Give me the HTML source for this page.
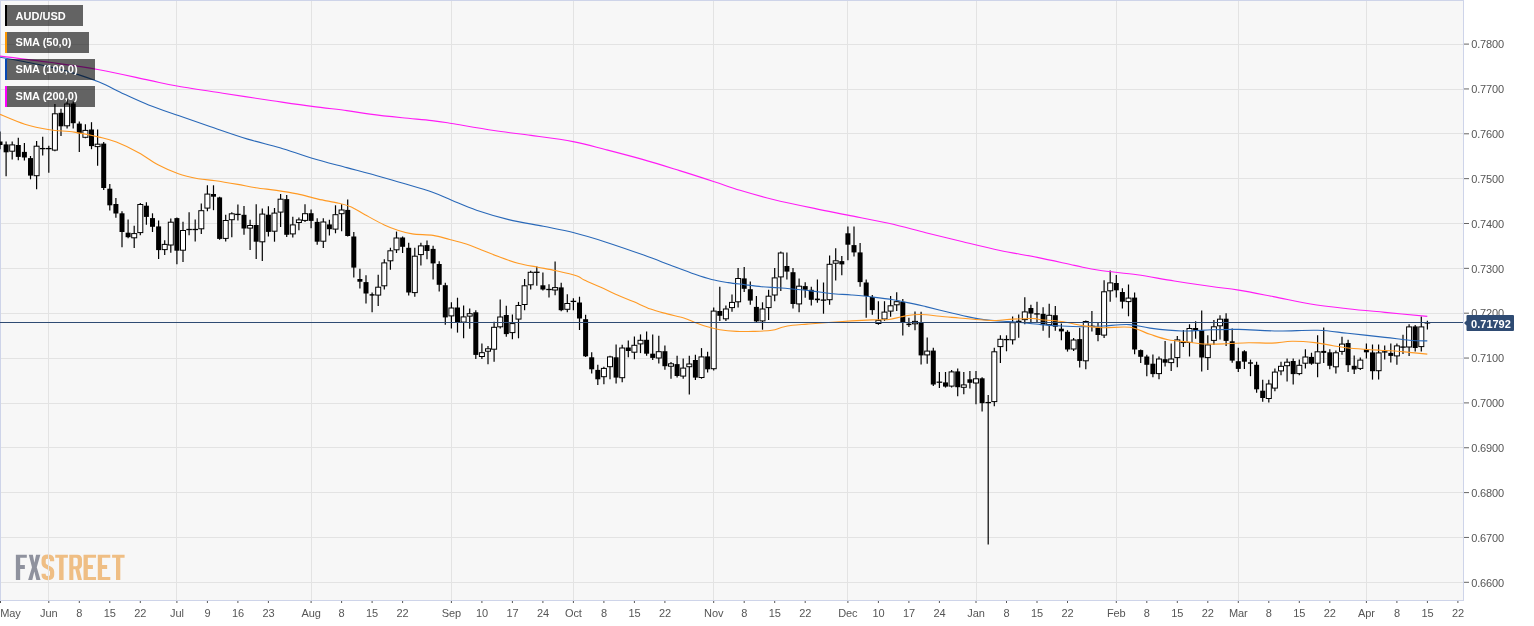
<!DOCTYPE html>
<html><head><meta charset="utf-8"><title>AUD/USD</title>
<style>
html,body{margin:0;padding:0;background:#fff;}
body{width:1534px;height:626px;overflow:hidden;position:relative;font-family:"Liberation Sans",sans-serif;}
svg{position:absolute;left:0;top:0;will-change:transform;transform:translateZ(0);}
text{font-family:"Liberation Sans",sans-serif;}
.ax{font-size:11px;fill:#555;letter-spacing:-0.12px;}
.lg{font-size:11px;font-weight:bold;fill:#fff;}
</style></head><body>
<svg width="1534" height="626" viewBox="0 0 1534 626">
<rect x="0" y="0" width="1534" height="626" fill="#fff"/>
<rect x="0" y="0" width="1463" height="600" fill="#f7f7f7"/>

<g transform="translate(10,548) scale(0.078228)">
<g fill="#8f929e">
<path d="M75,85 H215 V125 H130 V218 H190 V268 H130 V410 H75 Z"/>
<path d="M240,85 L292,85 L312,190 L333,85 L388,85 L342,245 L390,410 L337,410 L311,300 L285,410 L232,410 L281,245 Z"/>
</g>
<g fill="#efbe84">
<path d="M578,85 H740 V125 H685 V410 H628 V125 H578 Z"/>
<path fill-rule="evenodd" d="M758,85 H860 Q920,85 920,145 V215 Q920,255 885,268 L920,410 H868 L835,272 H810 V410 H758 Z M810,125 V232 H845 Q866,232 866,210 V147 Q866,125 845,125 Z"/>
<path d="M940,85 H1100 V125 H995 V218 H1060 V268 H995 V372 H1100 V410 H940 Z"/>
<path d="M1122,85 H1282 V125 H1177 V218 H1242 V268 H1177 V372 H1282 V410 H1122 Z"/>
<path d="M1305,85 H1465 V125 H1410 V410 H1355 V125 H1305 Z"/>
</g>
<path fill="none" stroke="#efbe84" stroke-width="54" d="M538,168 V150 Q538,111 484,111 Q430,111 430,150 V195 Q430,225 484,248 Q538,270 538,300 V345 Q538,384 484,384 Q430,384 430,345 V330"/>
</g>

<g stroke="#e3e3e3" stroke-width="1" shape-rendering="crispEdges">
<line x1="0" y1="44.5" x2="1463" y2="44.5"/>
<line x1="0" y1="89.5" x2="1463" y2="89.5"/>
<line x1="0" y1="133.5" x2="1463" y2="133.5"/>
<line x1="0" y1="178.5" x2="1463" y2="178.5"/>
<line x1="0" y1="223.5" x2="1463" y2="223.5"/>
<line x1="0" y1="268.5" x2="1463" y2="268.5"/>
<line x1="0" y1="313.5" x2="1463" y2="313.5"/>
<line x1="0" y1="358.5" x2="1463" y2="358.5"/>
<line x1="0" y1="403.5" x2="1463" y2="403.5"/>
<line x1="0" y1="447.5" x2="1463" y2="447.5"/>
<line x1="0" y1="492.5" x2="1463" y2="492.5"/>
<line x1="0" y1="537.5" x2="1463" y2="537.5"/>
<line x1="0" y1="582.5" x2="1463" y2="582.5"/>
<line x1="48.5" y1="0" x2="48.5" y2="600"/>
<line x1="176.5" y1="0" x2="176.5" y2="600"/>
<line x1="311.5" y1="0" x2="311.5" y2="600"/>
<line x1="451.5" y1="0" x2="451.5" y2="600"/>
<line x1="573.5" y1="0" x2="573.5" y2="600"/>
<line x1="713.5" y1="0" x2="713.5" y2="600"/>
<line x1="847.5" y1="0" x2="847.5" y2="600"/>
<line x1="976.5" y1="0" x2="976.5" y2="600"/>
<line x1="1116.5" y1="0" x2="1116.5" y2="600"/>
<line x1="1238.5" y1="0" x2="1238.5" y2="600"/>
<line x1="1366.5" y1="0" x2="1366.5" y2="600"/>
</g>
<g stroke="#ced4e9" stroke-width="1" fill="none" shape-rendering="crispEdges"><line x1="0.5" y1="0" x2="0.5" y2="600"/><line x1="0" y1="0.5" x2="1463" y2="0.5"/><line x1="1463.5" y1="0" x2="1463.5" y2="601"/><line x1="0" y1="600.5" x2="1464" y2="600.5"/></g>
<g stroke="#000" stroke-width="1">
<line x1="0.0" y1="131.4" x2="0.0" y2="149.3" stroke-width="1.2"/>
<rect x="-2.5" y="141.5" width="5" height="3.5" fill="#000" stroke="none"/>
<line x1="6.1" y1="141.5" x2="6.1" y2="176.2" stroke-width="1.2"/>
<rect x="3.6" y="144.4" width="5" height="7.9" fill="#000" stroke="none"/>
<line x1="12.2" y1="141.5" x2="12.2" y2="159.6" stroke-width="1.2"/>
<rect x="9.7" y="144.9" width="5" height="6.3" fill="#fff"/>
<line x1="18.3" y1="137.8" x2="18.3" y2="160.2" stroke-width="1.2"/>
<rect x="15.8" y="145.0" width="5" height="11.9" fill="#000" stroke="none"/>
<line x1="24.4" y1="143.0" x2="24.4" y2="160.6" stroke-width="1.2"/>
<rect x="21.9" y="151.9" width="5" height="5.6" fill="#000" stroke="none"/>
<line x1="30.5" y1="156.0" x2="30.5" y2="179.3" stroke-width="1.2"/>
<rect x="28.0" y="158.1" width="5" height="17.5" fill="#000" stroke="none"/>
<line x1="36.6" y1="140.9" x2="36.6" y2="189.3" stroke-width="1.2"/>
<rect x="34.1" y="146.2" width="5" height="29.5" fill="#fff"/>
<line x1="42.7" y1="136.7" x2="42.7" y2="155.4" stroke-width="1.2"/>
<line x1="39.9" y1="148.6" x2="45.5" y2="148.6" stroke-width="1.3"/>
<line x1="48.8" y1="145.7" x2="48.8" y2="172.7" stroke-width="1.2"/>
<line x1="46.0" y1="148.6" x2="51.6" y2="148.6" stroke-width="1.3"/>
<line x1="54.9" y1="104.1" x2="54.9" y2="151.3" stroke-width="1.2"/>
<rect x="52.4" y="113.8" width="5" height="36.3" fill="#fff"/>
<line x1="61.0" y1="108.7" x2="61.0" y2="136.1" stroke-width="1.2"/>
<rect x="58.5" y="112.8" width="5" height="13.5" fill="#000" stroke="none"/>
<line x1="67.1" y1="99.3" x2="67.1" y2="128.4" stroke-width="1.2"/>
<rect x="64.6" y="104.0" width="5" height="21.8" fill="#fff"/>
<line x1="73.2" y1="101.4" x2="73.2" y2="128.4" stroke-width="1.2"/>
<rect x="70.7" y="103.5" width="5" height="19.7" fill="#000" stroke="none"/>
<line x1="79.3" y1="121.6" x2="79.3" y2="151.9" stroke-width="1.2"/>
<rect x="76.8" y="123.6" width="5" height="9.6" fill="#000" stroke="none"/>
<line x1="85.4" y1="124.3" x2="85.4" y2="138.2" stroke-width="1.2"/>
<rect x="82.9" y="130.4" width="5" height="6.9" fill="#fff"/>
<line x1="91.5" y1="122.2" x2="91.5" y2="149.2" stroke-width="1.2"/>
<rect x="89.0" y="129.5" width="5" height="16.6" fill="#000" stroke="none"/>
<line x1="97.6" y1="129.5" x2="97.6" y2="165.8" stroke-width="1.2"/>
<rect x="95.1" y="144.2" width="5" height="2.4" fill="#fff"/>
<line x1="103.7" y1="141.9" x2="103.7" y2="190.1" stroke-width="1.2"/>
<rect x="101.2" y="143.6" width="5" height="44.4" fill="#000" stroke="none"/>
<line x1="109.8" y1="183.9" x2="109.8" y2="210.5" stroke-width="1.2"/>
<rect x="107.3" y="188.7" width="5" height="16.6" fill="#000" stroke="none"/>
<line x1="115.9" y1="198.0" x2="115.9" y2="217.7" stroke-width="1.2"/>
<rect x="113.4" y="204.0" width="5" height="9.5" fill="#000" stroke="none"/>
<line x1="122.0" y1="211.3" x2="122.0" y2="247.2" stroke-width="1.2"/>
<rect x="119.5" y="213.3" width="5" height="18.7" fill="#000" stroke="none"/>
<line x1="128.1" y1="219.6" x2="128.1" y2="238.3" stroke-width="1.2"/>
<rect x="125.6" y="232.7" width="5" height="4.5" fill="#000" stroke="none"/>
<line x1="134.2" y1="225.8" x2="134.2" y2="248.0" stroke-width="1.2"/>
<rect x="131.7" y="233.6" width="5" height="4.2" fill="#fff"/>
<line x1="140.3" y1="203.0" x2="140.3" y2="235.2" stroke-width="1.2"/>
<rect x="137.8" y="204.5" width="5" height="28.1" fill="#fff"/>
<line x1="146.4" y1="202.3" x2="146.4" y2="224.8" stroke-width="1.2"/>
<rect x="143.9" y="205.7" width="5" height="11.2" fill="#000" stroke="none"/>
<line x1="152.5" y1="213.3" x2="152.5" y2="232.0" stroke-width="1.2"/>
<rect x="150.0" y="218.1" width="5" height="8.7" fill="#000" stroke="none"/>
<line x1="158.6" y1="220.6" x2="158.6" y2="259.0" stroke-width="1.2"/>
<rect x="156.1" y="226.4" width="5" height="23.7" fill="#000" stroke="none"/>
<line x1="164.7" y1="240.3" x2="164.7" y2="254.9" stroke-width="1.2"/>
<rect x="162.2" y="244.4" width="5" height="5.2" fill="#fff"/>
<line x1="170.8" y1="218.5" x2="170.8" y2="252.8" stroke-width="1.2"/>
<rect x="168.3" y="222.2" width="5" height="22.8" fill="#fff"/>
<line x1="176.9" y1="217.5" x2="176.9" y2="264.2" stroke-width="1.2"/>
<rect x="174.4" y="218.1" width="5" height="32.6" fill="#000" stroke="none"/>
<line x1="183.0" y1="221.7" x2="183.0" y2="262.1" stroke-width="1.2"/>
<rect x="180.5" y="230.5" width="5" height="19.7" fill="#fff"/>
<line x1="189.1" y1="212.3" x2="189.1" y2="235.2" stroke-width="1.2"/>
<line x1="186.3" y1="229.5" x2="191.9" y2="229.5" stroke-width="1.3"/>
<line x1="195.2" y1="219.6" x2="195.2" y2="241.4" stroke-width="1.2"/>
<line x1="192.4" y1="229.5" x2="198.0" y2="229.5" stroke-width="1.3"/>
<line x1="201.3" y1="203.6" x2="201.3" y2="234.1" stroke-width="1.2"/>
<rect x="198.8" y="210.7" width="5" height="18.1" fill="#fff"/>
<line x1="207.4" y1="185.3" x2="207.4" y2="211.3" stroke-width="1.2"/>
<rect x="204.9" y="194.1" width="5" height="14.0" fill="#fff"/>
<line x1="213.5" y1="185.3" x2="213.5" y2="210.2" stroke-width="1.2"/>
<rect x="211.0" y="194.0" width="5" height="2.7" fill="#000" stroke="none"/>
<line x1="219.6" y1="196.7" x2="219.6" y2="239.7" stroke-width="1.2"/>
<rect x="217.1" y="197.4" width="5" height="41.5" fill="#000" stroke="none"/>
<line x1="225.7" y1="214.8" x2="225.7" y2="241.4" stroke-width="1.2"/>
<rect x="223.2" y="220.5" width="5" height="17.9" fill="#fff"/>
<line x1="231.8" y1="212.3" x2="231.8" y2="237.2" stroke-width="1.2"/>
<rect x="229.3" y="213.8" width="5" height="5.9" fill="#fff"/>
<line x1="237.9" y1="204.4" x2="237.9" y2="220.6" stroke-width="1.2"/>
<line x1="235.1" y1="214.4" x2="240.7" y2="214.4" stroke-width="1.3"/>
<line x1="244.0" y1="206.0" x2="244.0" y2="234.7" stroke-width="1.2"/>
<rect x="241.5" y="214.8" width="5" height="13.7" fill="#000" stroke="none"/>
<line x1="250.1" y1="219.8" x2="250.1" y2="250.0" stroke-width="1.2"/>
<rect x="247.6" y="225.5" width="5" height="2.6" fill="#fff"/>
<line x1="256.2" y1="204.3" x2="256.2" y2="258.9" stroke-width="1.2"/>
<rect x="253.7" y="225.0" width="5" height="16.7" fill="#000" stroke="none"/>
<line x1="262.3" y1="208.4" x2="262.3" y2="261.0" stroke-width="1.2"/>
<rect x="259.8" y="214.1" width="5" height="27.7" fill="#fff"/>
<line x1="268.4" y1="206.3" x2="268.4" y2="236.5" stroke-width="1.2"/>
<rect x="265.9" y="214.7" width="5" height="17.2" fill="#000" stroke="none"/>
<line x1="274.5" y1="208.0" x2="274.5" y2="241.7" stroke-width="1.2"/>
<rect x="272.0" y="213.1" width="5" height="18.1" fill="#fff"/>
<line x1="280.6" y1="193.9" x2="280.6" y2="227.1" stroke-width="1.2"/>
<rect x="278.1" y="199.2" width="5" height="12.9" fill="#fff"/>
<line x1="286.7" y1="194.9" x2="286.7" y2="236.9" stroke-width="1.2"/>
<rect x="284.2" y="199.1" width="5" height="35.7" fill="#000" stroke="none"/>
<line x1="292.8" y1="216.7" x2="292.8" y2="237.5" stroke-width="1.2"/>
<rect x="290.3" y="224.9" width="5" height="9.0" fill="#fff"/>
<line x1="298.9" y1="217.4" x2="298.9" y2="230.2" stroke-width="1.2"/>
<rect x="296.4" y="219.9" width="5" height="2.6" fill="#fff"/>
<line x1="305.0" y1="204.3" x2="305.0" y2="221.9" stroke-width="1.2"/>
<rect x="302.5" y="213.7" width="5" height="6.7" fill="#fff"/>
<line x1="311.1" y1="209.5" x2="311.1" y2="228.2" stroke-width="1.2"/>
<rect x="308.6" y="213.2" width="5" height="7.7" fill="#000" stroke="none"/>
<line x1="317.2" y1="218.2" x2="317.2" y2="244.8" stroke-width="1.2"/>
<rect x="314.7" y="221.9" width="5" height="19.8" fill="#000" stroke="none"/>
<line x1="323.3" y1="218.2" x2="323.3" y2="247.9" stroke-width="1.2"/>
<rect x="320.8" y="222.0" width="5" height="19.2" fill="#fff"/>
<line x1="329.4" y1="219.8" x2="329.4" y2="235.4" stroke-width="1.2"/>
<rect x="326.9" y="224.4" width="5" height="4.8" fill="#000" stroke="none"/>
<line x1="335.5" y1="205.3" x2="335.5" y2="233.3" stroke-width="1.2"/>
<rect x="333.0" y="214.7" width="5" height="14.4" fill="#fff"/>
<line x1="341.6" y1="204.3" x2="341.6" y2="231.3" stroke-width="1.2"/>
<rect x="339.1" y="210.0" width="5" height="3.7" fill="#fff"/>
<line x1="347.7" y1="199.5" x2="347.7" y2="236.5" stroke-width="1.2"/>
<rect x="345.2" y="209.9" width="5" height="26.1" fill="#000" stroke="none"/>
<line x1="353.8" y1="231.9" x2="353.8" y2="277.6" stroke-width="1.2"/>
<rect x="351.3" y="236.5" width="5" height="31.1" fill="#000" stroke="none"/>
<line x1="359.9" y1="268.7" x2="359.9" y2="288.4" stroke-width="1.2"/>
<rect x="357.4" y="279.0" width="5" height="2.7" fill="#000" stroke="none"/>
<line x1="366.0" y1="275.3" x2="366.0" y2="303.5" stroke-width="1.2"/>
<rect x="363.5" y="282.1" width="5" height="11.4" fill="#000" stroke="none"/>
<line x1="372.1" y1="292.5" x2="372.1" y2="312.2" stroke-width="1.2"/>
<rect x="369.6" y="294.2" width="5" height="1.4" fill="#000" stroke="none"/>
<line x1="378.2" y1="274.8" x2="378.2" y2="306.0" stroke-width="1.2"/>
<rect x="375.7" y="287.2" width="5" height="7.9" fill="#fff"/>
<line x1="384.3" y1="259.3" x2="384.3" y2="289.4" stroke-width="1.2"/>
<rect x="381.8" y="262.9" width="5" height="22.9" fill="#fff"/>
<line x1="390.4" y1="247.8" x2="390.4" y2="269.7" stroke-width="1.2"/>
<rect x="387.9" y="250.8" width="5" height="10.0" fill="#fff"/>
<line x1="396.5" y1="231.6" x2="396.5" y2="253.0" stroke-width="1.2"/>
<rect x="394.0" y="238.0" width="5" height="11.8" fill="#fff"/>
<line x1="402.6" y1="236.4" x2="402.6" y2="253.0" stroke-width="1.2"/>
<rect x="400.1" y="237.5" width="5" height="9.3" fill="#000" stroke="none"/>
<line x1="408.7" y1="242.7" x2="408.7" y2="295.6" stroke-width="1.2"/>
<rect x="406.2" y="247.8" width="5" height="44.7" fill="#000" stroke="none"/>
<line x1="414.8" y1="247.8" x2="414.8" y2="296.7" stroke-width="1.2"/>
<rect x="412.3" y="256.2" width="5" height="36.4" fill="#fff"/>
<line x1="420.9" y1="242.7" x2="420.9" y2="265.5" stroke-width="1.2"/>
<rect x="418.4" y="245.9" width="5" height="8.7" fill="#fff"/>
<line x1="427.0" y1="240.6" x2="427.0" y2="259.3" stroke-width="1.2"/>
<rect x="424.5" y="245.1" width="5" height="5.9" fill="#000" stroke="none"/>
<line x1="433.1" y1="245.8" x2="433.1" y2="279.4" stroke-width="1.2"/>
<rect x="430.6" y="248.9" width="5" height="14.5" fill="#000" stroke="none"/>
<line x1="439.2" y1="261.3" x2="439.2" y2="291.5" stroke-width="1.2"/>
<rect x="436.7" y="264.0" width="5" height="20.8" fill="#000" stroke="none"/>
<line x1="445.3" y1="282.7" x2="445.3" y2="324.7" stroke-width="1.2"/>
<rect x="442.8" y="285.2" width="5" height="32.2" fill="#000" stroke="none"/>
<line x1="451.4" y1="302.3" x2="451.4" y2="328.4" stroke-width="1.2"/>
<rect x="448.9" y="308.0" width="5" height="7.9" fill="#fff"/>
<line x1="457.5" y1="297.7" x2="457.5" y2="332.6" stroke-width="1.2"/>
<rect x="455.0" y="307.5" width="5" height="14.7" fill="#000" stroke="none"/>
<line x1="463.6" y1="305.6" x2="463.6" y2="338.2" stroke-width="1.2"/>
<rect x="461.1" y="316.9" width="5" height="5.2" fill="#fff"/>
<line x1="469.7" y1="308.5" x2="469.7" y2="328.8" stroke-width="1.2"/>
<rect x="467.2" y="313.7" width="5" height="2.4" fill="#fff"/>
<line x1="475.8" y1="310.2" x2="475.8" y2="359.0" stroke-width="1.2"/>
<rect x="473.3" y="312.3" width="5" height="42.6" fill="#000" stroke="none"/>
<line x1="481.9" y1="343.5" x2="481.9" y2="359.0" stroke-width="1.2"/>
<rect x="479.4" y="352.7" width="5" height="3.8" fill="#fff"/>
<line x1="488.0" y1="346.0" x2="488.0" y2="364.2" stroke-width="1.2"/>
<rect x="485.5" y="348.8" width="5" height="2.4" fill="#fff"/>
<line x1="494.1" y1="321.7" x2="494.1" y2="361.7" stroke-width="1.2"/>
<rect x="491.6" y="327.3" width="5" height="21.9" fill="#fff"/>
<line x1="500.2" y1="299.4" x2="500.2" y2="328.5" stroke-width="1.2"/>
<rect x="497.7" y="317.0" width="5" height="9.8" fill="#fff"/>
<line x1="506.3" y1="305.7" x2="506.3" y2="336.8" stroke-width="1.2"/>
<rect x="503.8" y="315.0" width="5" height="19.1" fill="#000" stroke="none"/>
<line x1="512.4" y1="314.4" x2="512.4" y2="339.3" stroke-width="1.2"/>
<rect x="509.9" y="323.6" width="5" height="9.0" fill="#fff"/>
<line x1="518.5" y1="301.9" x2="518.5" y2="338.3" stroke-width="1.2"/>
<rect x="516.0" y="305.5" width="5" height="13.6" fill="#fff"/>
<line x1="524.6" y1="279.1" x2="524.6" y2="310.2" stroke-width="1.2"/>
<rect x="522.1" y="285.8" width="5" height="18.7" fill="#fff"/>
<line x1="530.7" y1="270.8" x2="530.7" y2="289.5" stroke-width="1.2"/>
<rect x="528.2" y="272.3" width="5" height="12.5" fill="#fff"/>
<line x1="536.8" y1="266.6" x2="536.8" y2="285.7" stroke-width="1.2"/>
<line x1="534.0" y1="272.3" x2="539.6" y2="272.3" stroke-width="1.3"/>
<line x1="542.9" y1="272.4" x2="542.9" y2="290.5" stroke-width="1.2"/>
<rect x="540.4" y="285.3" width="5" height="4.2" fill="#000" stroke="none"/>
<line x1="549.0" y1="284.3" x2="549.0" y2="297.4" stroke-width="1.2"/>
<line x1="546.2" y1="289.5" x2="551.8" y2="289.5" stroke-width="1.3"/>
<line x1="555.1" y1="261.4" x2="555.1" y2="295.3" stroke-width="1.2"/>
<rect x="552.6" y="287.6" width="5" height="2.4" fill="#fff"/>
<line x1="561.2" y1="282.8" x2="561.2" y2="311.3" stroke-width="1.2"/>
<rect x="558.7" y="287.4" width="5" height="22.8" fill="#000" stroke="none"/>
<line x1="567.3" y1="294.2" x2="567.3" y2="312.3" stroke-width="1.2"/>
<rect x="564.8" y="303.5" width="5" height="5.8" fill="#fff"/>
<line x1="573.4" y1="298.2" x2="573.4" y2="310.2" stroke-width="1.2"/>
<line x1="570.6" y1="301.4" x2="576.2" y2="301.4" stroke-width="1.3"/>
<line x1="579.5" y1="296.7" x2="579.5" y2="330.0" stroke-width="1.2"/>
<rect x="577.0" y="302.5" width="5" height="16.0" fill="#000" stroke="none"/>
<line x1="585.6" y1="314.8" x2="585.6" y2="357.0" stroke-width="1.2"/>
<rect x="583.1" y="319.2" width="5" height="37.1" fill="#000" stroke="none"/>
<line x1="591.7" y1="352.3" x2="591.7" y2="373.5" stroke-width="1.2"/>
<rect x="589.2" y="357.3" width="5" height="12.0" fill="#000" stroke="none"/>
<line x1="597.8" y1="364.7" x2="597.8" y2="384.9" stroke-width="1.2"/>
<rect x="595.3" y="369.9" width="5" height="9.4" fill="#000" stroke="none"/>
<line x1="603.9" y1="366.8" x2="603.9" y2="384.3" stroke-width="1.2"/>
<rect x="601.4" y="368.4" width="5" height="8.3" fill="#fff"/>
<line x1="610.0" y1="355.8" x2="610.0" y2="379.3" stroke-width="1.2"/>
<rect x="607.5" y="356.9" width="5" height="9.8" fill="#fff"/>
<line x1="616.1" y1="344.4" x2="616.1" y2="383.4" stroke-width="1.2"/>
<rect x="613.6" y="357.3" width="5" height="20.3" fill="#000" stroke="none"/>
<line x1="622.2" y1="344.8" x2="622.2" y2="382.2" stroke-width="1.2"/>
<rect x="619.7" y="348.0" width="5" height="29.7" fill="#fff"/>
<line x1="628.3" y1="340.6" x2="628.3" y2="357.3" stroke-width="1.2"/>
<rect x="625.8" y="347.5" width="5" height="3.5" fill="#000" stroke="none"/>
<line x1="634.4" y1="336.5" x2="634.4" y2="359.3" stroke-width="1.2"/>
<rect x="631.9" y="345.3" width="5" height="6.9" fill="#fff"/>
<line x1="640.5" y1="334.4" x2="640.5" y2="353.1" stroke-width="1.2"/>
<rect x="638.0" y="340.3" width="5" height="3.6" fill="#fff"/>
<line x1="646.6" y1="331.5" x2="646.6" y2="355.8" stroke-width="1.2"/>
<rect x="644.1" y="339.8" width="5" height="13.9" fill="#000" stroke="none"/>
<line x1="652.7" y1="334.4" x2="652.7" y2="360.0" stroke-width="1.2"/>
<rect x="650.2" y="353.7" width="5" height="4.2" fill="#000" stroke="none"/>
<line x1="658.8" y1="335.7" x2="658.8" y2="363.5" stroke-width="1.2"/>
<rect x="656.3" y="351.7" width="5" height="6.3" fill="#fff"/>
<line x1="664.9" y1="345.4" x2="664.9" y2="369.7" stroke-width="1.2"/>
<rect x="662.4" y="351.2" width="5" height="15.0" fill="#000" stroke="none"/>
<line x1="671.0" y1="362.0" x2="671.0" y2="378.7" stroke-width="1.2"/>
<rect x="668.5" y="363.8" width="5" height="2.4" fill="#fff"/>
<line x1="677.1" y1="355.8" x2="677.1" y2="377.6" stroke-width="1.2"/>
<rect x="674.6" y="364.1" width="5" height="11.9" fill="#000" stroke="none"/>
<line x1="683.2" y1="358.5" x2="683.2" y2="378.7" stroke-width="1.2"/>
<rect x="680.7" y="368.1" width="5" height="8.0" fill="#fff"/>
<line x1="689.3" y1="355.8" x2="689.3" y2="394.6" stroke-width="1.2"/>
<rect x="686.8" y="364.0" width="5" height="2.7" fill="#fff"/>
<line x1="695.4" y1="354.8" x2="695.4" y2="380.1" stroke-width="1.2"/>
<rect x="692.9" y="360.0" width="5" height="17.6" fill="#000" stroke="none"/>
<line x1="701.5" y1="348.1" x2="701.5" y2="378.7" stroke-width="1.2"/>
<rect x="699.0" y="356.9" width="5" height="20.6" fill="#fff"/>
<line x1="707.6" y1="351.7" x2="707.6" y2="372.4" stroke-width="1.2"/>
<rect x="705.1" y="356.4" width="5" height="12.9" fill="#000" stroke="none"/>
<line x1="713.7" y1="307.5" x2="713.7" y2="370.5" stroke-width="1.2"/>
<rect x="711.2" y="311.1" width="5" height="57.6" fill="#fff"/>
<line x1="719.8" y1="286.7" x2="719.8" y2="321.0" stroke-width="1.2"/>
<rect x="717.3" y="311.0" width="5" height="4.8" fill="#000" stroke="none"/>
<line x1="725.9" y1="305.4" x2="725.9" y2="321.0" stroke-width="1.2"/>
<rect x="723.4" y="309.0" width="5" height="9.8" fill="#fff"/>
<line x1="732.0" y1="294.4" x2="732.0" y2="311.7" stroke-width="1.2"/>
<rect x="729.5" y="302.4" width="5" height="5.2" fill="#fff"/>
<line x1="738.1" y1="268.0" x2="738.1" y2="307.5" stroke-width="1.2"/>
<rect x="735.6" y="278.5" width="5" height="23.3" fill="#fff"/>
<line x1="744.2" y1="267.0" x2="744.2" y2="291.9" stroke-width="1.2"/>
<rect x="741.7" y="278.4" width="5" height="10.4" fill="#000" stroke="none"/>
<line x1="750.3" y1="281.5" x2="750.3" y2="304.8" stroke-width="1.2"/>
<rect x="747.8" y="289.2" width="5" height="11.4" fill="#000" stroke="none"/>
<line x1="756.4" y1="296.1" x2="756.4" y2="322.0" stroke-width="1.2"/>
<rect x="753.9" y="306.9" width="5" height="14.5" fill="#000" stroke="none"/>
<line x1="762.5" y1="302.3" x2="762.5" y2="329.7" stroke-width="1.2"/>
<rect x="760.0" y="309.0" width="5" height="11.9" fill="#fff"/>
<line x1="768.6" y1="289.8" x2="768.6" y2="320.0" stroke-width="1.2"/>
<rect x="766.1" y="296.2" width="5" height="11.4" fill="#fff"/>
<line x1="774.7" y1="268.0" x2="774.7" y2="301.3" stroke-width="1.2"/>
<rect x="772.2" y="277.9" width="5" height="17.1" fill="#fff"/>
<line x1="780.8" y1="251.4" x2="780.8" y2="290.9" stroke-width="1.2"/>
<rect x="778.3" y="253.0" width="5" height="23.9" fill="#fff"/>
<line x1="786.9" y1="252.5" x2="786.9" y2="279.5" stroke-width="1.2"/>
<rect x="784.4" y="266.0" width="5" height="5.6" fill="#000" stroke="none"/>
<line x1="793.0" y1="268.0" x2="793.0" y2="308.5" stroke-width="1.2"/>
<rect x="790.5" y="272.2" width="5" height="31.8" fill="#000" stroke="none"/>
<line x1="799.1" y1="278.4" x2="799.1" y2="312.3" stroke-width="1.2"/>
<rect x="796.6" y="286.2" width="5" height="17.7" fill="#fff"/>
<line x1="805.2" y1="282.2" x2="805.2" y2="297.7" stroke-width="1.2"/>
<rect x="802.7" y="286.1" width="5" height="3.7" fill="#000" stroke="none"/>
<line x1="811.3" y1="286.7" x2="811.3" y2="305.4" stroke-width="1.2"/>
<rect x="808.8" y="289.8" width="5" height="10.0" fill="#000" stroke="none"/>
<line x1="817.4" y1="279.5" x2="817.4" y2="302.7" stroke-width="1.2"/>
<rect x="814.9" y="298.6" width="5" height="1.6" fill="#000" stroke="none"/>
<line x1="823.5" y1="282.5" x2="823.5" y2="313.7" stroke-width="1.2"/>
<line x1="820.7" y1="300.1" x2="826.3" y2="300.1" stroke-width="1.3"/>
<line x1="829.6" y1="255.5" x2="829.6" y2="304.7" stroke-width="1.2"/>
<rect x="827.1" y="264.3" width="5" height="35.4" fill="#fff"/>
<line x1="835.7" y1="248.2" x2="835.7" y2="280.4" stroke-width="1.2"/>
<rect x="833.2" y="260.8" width="5" height="2.4" fill="#fff"/>
<line x1="841.8" y1="256.1" x2="841.8" y2="275.2" stroke-width="1.2"/>
<rect x="839.3" y="261.1" width="5" height="3.3" fill="#000" stroke="none"/>
<line x1="847.9" y1="226.4" x2="847.9" y2="260.3" stroke-width="1.2"/>
<rect x="845.4" y="233.3" width="5" height="11.4" fill="#000" stroke="none"/>
<line x1="854.0" y1="226.4" x2="854.0" y2="256.5" stroke-width="1.2"/>
<rect x="851.5" y="245.1" width="5" height="7.3" fill="#000" stroke="none"/>
<line x1="860.1" y1="243.0" x2="860.1" y2="286.7" stroke-width="1.2"/>
<rect x="857.6" y="252.4" width="5" height="29.7" fill="#000" stroke="none"/>
<line x1="866.2" y1="279.4" x2="866.2" y2="317.8" stroke-width="1.2"/>
<rect x="863.7" y="282.5" width="5" height="13.5" fill="#000" stroke="none"/>
<line x1="872.3" y1="295.0" x2="872.3" y2="314.7" stroke-width="1.2"/>
<rect x="869.8" y="297.0" width="5" height="13.1" fill="#000" stroke="none"/>
<line x1="878.4" y1="301.2" x2="878.4" y2="324.7" stroke-width="1.2"/>
<rect x="875.9" y="320.4" width="5" height="3.1" fill="#fff"/>
<line x1="884.5" y1="301.2" x2="884.5" y2="320.9" stroke-width="1.2"/>
<rect x="882.0" y="312.1" width="5" height="6.9" fill="#fff"/>
<line x1="890.6" y1="296.0" x2="890.6" y2="316.8" stroke-width="1.2"/>
<rect x="888.1" y="305.8" width="5" height="5.3" fill="#fff"/>
<line x1="896.7" y1="292.3" x2="896.7" y2="311.0" stroke-width="1.2"/>
<rect x="894.2" y="301.7" width="5" height="3.1" fill="#fff"/>
<line x1="902.8" y1="299.1" x2="902.8" y2="335.5" stroke-width="1.2"/>
<rect x="900.3" y="301.8" width="5" height="20.2" fill="#000" stroke="none"/>
<line x1="908.9" y1="317.8" x2="908.9" y2="327.1" stroke-width="1.2"/>
<rect x="906.4" y="323.6" width="5" height="1.5" fill="#000" stroke="none"/>
<line x1="915.0" y1="311.6" x2="915.0" y2="330.3" stroke-width="1.2"/>
<rect x="912.5" y="321.4" width="5" height="2.4" fill="#fff"/>
<line x1="921.1" y1="311.8" x2="921.1" y2="364.4" stroke-width="1.2"/>
<rect x="918.6" y="322.2" width="5" height="33.2" fill="#000" stroke="none"/>
<line x1="927.2" y1="337.4" x2="927.2" y2="363.7" stroke-width="1.2"/>
<rect x="924.7" y="351.1" width="5" height="3.8" fill="#fff"/>
<line x1="933.3" y1="347.7" x2="933.3" y2="386.0" stroke-width="1.2"/>
<rect x="930.8" y="350.6" width="5" height="33.9" fill="#000" stroke="none"/>
<line x1="939.4" y1="372.0" x2="939.4" y2="388.0" stroke-width="1.2"/>
<line x1="936.6" y1="382.2" x2="942.2" y2="382.2" stroke-width="1.3"/>
<line x1="945.5" y1="372.0" x2="945.5" y2="387.6" stroke-width="1.2"/>
<rect x="943.0" y="382.4" width="5" height="4.2" fill="#000" stroke="none"/>
<line x1="951.6" y1="370.0" x2="951.6" y2="387.6" stroke-width="1.2"/>
<rect x="949.1" y="371.9" width="5" height="14.2" fill="#fff"/>
<line x1="957.7" y1="368.5" x2="957.7" y2="396.3" stroke-width="1.2"/>
<rect x="955.2" y="371.4" width="5" height="15.8" fill="#000" stroke="none"/>
<line x1="963.8" y1="372.0" x2="963.8" y2="394.3" stroke-width="1.2"/>
<rect x="961.3" y="384.9" width="5" height="2.4" fill="#fff"/>
<line x1="969.9" y1="371.0" x2="969.9" y2="388.6" stroke-width="1.2"/>
<rect x="967.4" y="379.3" width="5" height="3.5" fill="#000" stroke="none"/>
<line x1="976.0" y1="371.0" x2="976.0" y2="404.2" stroke-width="1.2"/>
<rect x="973.5" y="378.8" width="5" height="4.2" fill="#fff"/>
<line x1="982.1" y1="377.2" x2="982.1" y2="411.5" stroke-width="1.2"/>
<rect x="979.6" y="378.3" width="5" height="24.9" fill="#000" stroke="none"/>
<line x1="988.2" y1="394.9" x2="988.2" y2="544.5" stroke-width="1.2"/>
<line x1="985.4" y1="402.6" x2="991.0" y2="402.6" stroke-width="1.3"/>
<line x1="994.3" y1="347.7" x2="994.3" y2="406.3" stroke-width="1.2"/>
<rect x="991.8" y="351.8" width="5" height="49.8" fill="#fff"/>
<line x1="1000.4" y1="335.3" x2="1000.4" y2="363.1" stroke-width="1.2"/>
<rect x="997.9" y="339.3" width="5" height="7.3" fill="#fff"/>
<line x1="1006.5" y1="335.3" x2="1006.5" y2="351.3" stroke-width="1.2"/>
<line x1="1003.7" y1="339.6" x2="1009.3" y2="339.6" stroke-width="1.3"/>
<line x1="1012.6" y1="316.6" x2="1012.6" y2="344.4" stroke-width="1.2"/>
<rect x="1010.1" y="322.7" width="5" height="17.1" fill="#fff"/>
<line x1="1018.7" y1="314.5" x2="1018.7" y2="337.8" stroke-width="1.2"/>
<line x1="1015.9" y1="321.4" x2="1021.5" y2="321.4" stroke-width="1.3"/>
<line x1="1024.8" y1="297.3" x2="1024.8" y2="324.3" stroke-width="1.2"/>
<rect x="1022.3" y="311.9" width="5" height="7.7" fill="#fff"/>
<line x1="1030.9" y1="304.8" x2="1030.9" y2="323.5" stroke-width="1.2"/>
<rect x="1028.4" y="308.0" width="5" height="5.6" fill="#000" stroke="none"/>
<line x1="1037.0" y1="301.7" x2="1037.0" y2="322.5" stroke-width="1.2"/>
<line x1="1034.2" y1="313.9" x2="1039.8" y2="313.9" stroke-width="1.3"/>
<line x1="1043.1" y1="307.3" x2="1043.1" y2="330.8" stroke-width="1.2"/>
<rect x="1040.6" y="313.8" width="5" height="10.8" fill="#000" stroke="none"/>
<line x1="1049.2" y1="303.8" x2="1049.2" y2="337.7" stroke-width="1.2"/>
<rect x="1046.7" y="315.3" width="5" height="9.4" fill="#fff"/>
<line x1="1055.3" y1="305.9" x2="1055.3" y2="330.8" stroke-width="1.2"/>
<rect x="1052.8" y="315.2" width="5" height="11.5" fill="#000" stroke="none"/>
<line x1="1061.4" y1="323.5" x2="1061.4" y2="340.2" stroke-width="1.2"/>
<rect x="1058.9" y="328.7" width="5" height="2.7" fill="#000" stroke="none"/>
<line x1="1067.5" y1="330.2" x2="1067.5" y2="351.6" stroke-width="1.2"/>
<rect x="1065.0" y="331.8" width="5" height="17.7" fill="#000" stroke="none"/>
<line x1="1073.6" y1="338.1" x2="1073.6" y2="351.0" stroke-width="1.2"/>
<rect x="1071.1" y="340.0" width="5" height="9.0" fill="#fff"/>
<line x1="1079.7" y1="327.7" x2="1079.7" y2="367.6" stroke-width="1.2"/>
<rect x="1077.2" y="339.1" width="5" height="21.8" fill="#000" stroke="none"/>
<line x1="1085.8" y1="320.4" x2="1085.8" y2="369.2" stroke-width="1.2"/>
<rect x="1083.3" y="321.5" width="5" height="39.3" fill="#fff"/>
<line x1="1091.9" y1="311.1" x2="1091.9" y2="331.4" stroke-width="1.2"/>
<line x1="1089.1" y1="326.3" x2="1094.7" y2="326.3" stroke-width="1.3"/>
<line x1="1098.0" y1="322.5" x2="1098.0" y2="341.2" stroke-width="1.2"/>
<rect x="1095.5" y="327.7" width="5" height="7.3" fill="#000" stroke="none"/>
<line x1="1104.1" y1="280.3" x2="1104.1" y2="338.1" stroke-width="1.2"/>
<rect x="1101.6" y="291.8" width="5" height="43.3" fill="#fff"/>
<line x1="1110.2" y1="270.6" x2="1110.2" y2="301.7" stroke-width="1.2"/>
<rect x="1107.7" y="282.9" width="5" height="7.9" fill="#fff"/>
<line x1="1116.3" y1="275.1" x2="1116.3" y2="297.6" stroke-width="1.2"/>
<rect x="1113.8" y="283.0" width="5" height="7.3" fill="#000" stroke="none"/>
<line x1="1122.4" y1="288.2" x2="1122.4" y2="308.6" stroke-width="1.2"/>
<rect x="1119.9" y="292.0" width="5" height="9.7" fill="#000" stroke="none"/>
<line x1="1128.5" y1="284.5" x2="1128.5" y2="316.3" stroke-width="1.2"/>
<rect x="1126.0" y="298.1" width="5" height="3.5" fill="#fff"/>
<line x1="1134.6" y1="292.4" x2="1134.6" y2="354.3" stroke-width="1.2"/>
<rect x="1132.1" y="297.6" width="5" height="51.9" fill="#000" stroke="none"/>
<line x1="1140.7" y1="349.5" x2="1140.7" y2="363.0" stroke-width="1.2"/>
<rect x="1138.2" y="350.1" width="5" height="6.7" fill="#000" stroke="none"/>
<line x1="1146.8" y1="354.8" x2="1146.8" y2="376.2" stroke-width="1.2"/>
<rect x="1144.3" y="356.5" width="5" height="8.3" fill="#000" stroke="none"/>
<line x1="1152.9" y1="354.4" x2="1152.9" y2="377.2" stroke-width="1.2"/>
<rect x="1150.4" y="363.7" width="5" height="10.4" fill="#000" stroke="none"/>
<line x1="1159.0" y1="356.5" x2="1159.0" y2="379.3" stroke-width="1.2"/>
<rect x="1156.5" y="359.0" width="5" height="14.6" fill="#fff"/>
<line x1="1165.1" y1="340.9" x2="1165.1" y2="366.4" stroke-width="1.2"/>
<rect x="1162.6" y="359.2" width="5" height="3.5" fill="#000" stroke="none"/>
<line x1="1171.2" y1="343.6" x2="1171.2" y2="371.0" stroke-width="1.2"/>
<rect x="1168.7" y="359.0" width="5" height="3.6" fill="#fff"/>
<line x1="1177.3" y1="336.1" x2="1177.3" y2="367.3" stroke-width="1.2"/>
<rect x="1174.8" y="339.9" width="5" height="17.7" fill="#fff"/>
<line x1="1183.4" y1="329.9" x2="1183.4" y2="347.1" stroke-width="1.2"/>
<line x1="1180.6" y1="342.4" x2="1186.2" y2="342.4" stroke-width="1.3"/>
<line x1="1189.5" y1="324.3" x2="1189.5" y2="356.5" stroke-width="1.2"/>
<rect x="1187.0" y="328.5" width="5" height="14.0" fill="#fff"/>
<line x1="1195.6" y1="321.2" x2="1195.6" y2="338.8" stroke-width="1.2"/>
<rect x="1193.1" y="328.0" width="5" height="2.5" fill="#000" stroke="none"/>
<line x1="1201.7" y1="310.4" x2="1201.7" y2="371.4" stroke-width="1.2"/>
<rect x="1199.2" y="330.5" width="5" height="27.0" fill="#000" stroke="none"/>
<line x1="1207.8" y1="335.3" x2="1207.8" y2="370.0" stroke-width="1.2"/>
<rect x="1205.3" y="344.9" width="5" height="12.7" fill="#fff"/>
<line x1="1213.9" y1="320.1" x2="1213.9" y2="345.0" stroke-width="1.2"/>
<rect x="1211.4" y="326.8" width="5" height="13.6" fill="#fff"/>
<line x1="1220.0" y1="315.3" x2="1220.0" y2="339.4" stroke-width="1.2"/>
<rect x="1217.5" y="319.2" width="5" height="6.6" fill="#fff"/>
<line x1="1226.1" y1="313.3" x2="1226.1" y2="346.1" stroke-width="1.2"/>
<rect x="1223.6" y="318.7" width="5" height="22.2" fill="#000" stroke="none"/>
<line x1="1232.2" y1="328.4" x2="1232.2" y2="362.7" stroke-width="1.2"/>
<rect x="1229.7" y="341.3" width="5" height="19.3" fill="#000" stroke="none"/>
<line x1="1238.3" y1="347.7" x2="1238.3" y2="372.0" stroke-width="1.2"/>
<rect x="1235.8" y="361.2" width="5" height="7.7" fill="#000" stroke="none"/>
<line x1="1244.4" y1="350.2" x2="1244.4" y2="368.9" stroke-width="1.2"/>
<rect x="1241.9" y="351.3" width="5" height="10.4" fill="#000" stroke="none"/>
<line x1="1250.5" y1="359.6" x2="1250.5" y2="376.2" stroke-width="1.2"/>
<rect x="1248.0" y="362.3" width="5" height="1.4" fill="#000" stroke="none"/>
<line x1="1256.6" y1="361.7" x2="1256.6" y2="392.8" stroke-width="1.2"/>
<rect x="1254.1" y="364.8" width="5" height="24.5" fill="#000" stroke="none"/>
<line x1="1262.7" y1="379.7" x2="1262.7" y2="401.7" stroke-width="1.2"/>
<rect x="1260.2" y="390.7" width="5" height="7.3" fill="#000" stroke="none"/>
<line x1="1268.8" y1="379.7" x2="1268.8" y2="402.6" stroke-width="1.2"/>
<rect x="1266.3" y="384.0" width="5" height="14.5" fill="#fff"/>
<line x1="1274.9" y1="368.5" x2="1274.9" y2="391.3" stroke-width="1.2"/>
<rect x="1272.4" y="372.1" width="5" height="16.0" fill="#fff"/>
<line x1="1281.0" y1="361.7" x2="1281.0" y2="375.2" stroke-width="1.2"/>
<rect x="1278.5" y="366.3" width="5" height="4.6" fill="#fff"/>
<line x1="1287.1" y1="358.5" x2="1287.1" y2="381.4" stroke-width="1.2"/>
<rect x="1284.6" y="362.2" width="5" height="3.5" fill="#fff"/>
<line x1="1293.2" y1="358.5" x2="1293.2" y2="384.5" stroke-width="1.2"/>
<rect x="1290.7" y="361.0" width="5" height="13.1" fill="#000" stroke="none"/>
<line x1="1299.3" y1="359.6" x2="1299.3" y2="375.2" stroke-width="1.2"/>
<rect x="1296.8" y="365.3" width="5" height="8.3" fill="#fff"/>
<line x1="1305.4" y1="349.2" x2="1305.4" y2="368.5" stroke-width="1.2"/>
<rect x="1302.9" y="357.0" width="5" height="6.2" fill="#fff"/>
<line x1="1311.5" y1="352.7" x2="1311.5" y2="364.8" stroke-width="1.2"/>
<rect x="1309.0" y="356.9" width="5" height="6.8" fill="#000" stroke="none"/>
<line x1="1317.6" y1="335.3" x2="1317.6" y2="377.2" stroke-width="1.2"/>
<rect x="1315.1" y="351.8" width="5" height="11.4" fill="#fff"/>
<line x1="1323.7" y1="327.4" x2="1323.7" y2="363.1" stroke-width="1.2"/>
<rect x="1321.2" y="350.9" width="5" height="2.0" fill="#000" stroke="none"/>
<line x1="1329.8" y1="349.2" x2="1329.8" y2="369.3" stroke-width="1.2"/>
<rect x="1327.3" y="352.3" width="5" height="13.5" fill="#000" stroke="none"/>
<line x1="1335.9" y1="350.6" x2="1335.9" y2="373.5" stroke-width="1.2"/>
<rect x="1333.4" y="352.8" width="5" height="14.0" fill="#fff"/>
<line x1="1342.0" y1="336.7" x2="1342.0" y2="354.8" stroke-width="1.2"/>
<rect x="1339.5" y="344.1" width="5" height="7.3" fill="#fff"/>
<line x1="1348.1" y1="339.8" x2="1348.1" y2="372.0" stroke-width="1.2"/>
<rect x="1345.6" y="343.0" width="5" height="22.2" fill="#000" stroke="none"/>
<line x1="1354.2" y1="355.4" x2="1354.2" y2="374.1" stroke-width="1.2"/>
<rect x="1351.7" y="365.8" width="5" height="3.7" fill="#000" stroke="none"/>
<line x1="1360.3" y1="357.5" x2="1360.3" y2="370.0" stroke-width="1.2"/>
<rect x="1357.8" y="360.1" width="5" height="8.3" fill="#fff"/>
<line x1="1366.4" y1="343.6" x2="1366.4" y2="358.5" stroke-width="1.2"/>
<rect x="1363.9" y="349.2" width="5" height="3.1" fill="#000" stroke="none"/>
<line x1="1372.5" y1="344.5" x2="1372.5" y2="379.6" stroke-width="1.2"/>
<rect x="1370.0" y="352.4" width="5" height="18.8" fill="#000" stroke="none"/>
<line x1="1378.6" y1="344.5" x2="1378.6" y2="379.6" stroke-width="1.2"/>
<rect x="1376.1" y="352.9" width="5" height="17.8" fill="#fff"/>
<line x1="1384.7" y1="345.4" x2="1384.7" y2="359.4" stroke-width="1.2"/>
<line x1="1381.9" y1="351.9" x2="1387.5" y2="351.9" stroke-width="1.3"/>
<line x1="1390.8" y1="343.6" x2="1390.8" y2="362.4" stroke-width="1.2"/>
<rect x="1388.3" y="352.9" width="5" height="3.0" fill="#000" stroke="none"/>
<line x1="1396.9" y1="343.6" x2="1396.9" y2="364.7" stroke-width="1.2"/>
<rect x="1394.4" y="345.9" width="5" height="10.0" fill="#fff"/>
<line x1="1403.0" y1="334.8" x2="1403.0" y2="354.1" stroke-width="1.2"/>
<line x1="1400.2" y1="347.1" x2="1405.8" y2="347.1" stroke-width="1.3"/>
<line x1="1409.1" y1="324.3" x2="1409.1" y2="355.9" stroke-width="1.2"/>
<rect x="1406.6" y="326.9" width="5" height="20.1" fill="#fff"/>
<line x1="1415.2" y1="325.1" x2="1415.2" y2="351.5" stroke-width="1.2"/>
<rect x="1412.7" y="326.4" width="5" height="21.6" fill="#000" stroke="none"/>
<line x1="1421.3" y1="316.4" x2="1421.3" y2="351.5" stroke-width="1.2"/>
<rect x="1418.8" y="326.9" width="5" height="19.7" fill="#fff"/>
<line x1="1427.4" y1="320.7" x2="1427.4" y2="329.5" stroke-width="1.2"/>
<line x1="1424.6" y1="322.9" x2="1430.2" y2="322.9" stroke-width="1.3"/>
</g>
<path d="M0.0,56.1 C8.2,57.1 33.0,60.0 49.5,62.3 C66.0,64.6 82.6,66.7 99.1,69.7 C115.6,72.7 135.4,77.3 148.6,80.1 C161.8,82.9 166.0,84.1 178.4,86.3 C190.8,88.5 207.2,90.9 222.9,93.3 C238.6,95.7 257.6,98.5 272.5,100.7 C287.4,102.9 299.7,104.8 312.1,106.4 C324.5,108.1 337.2,109.3 346.8,110.6 C356.4,111.9 360.8,112.9 370.0,114.1 C379.2,115.3 391.9,116.7 402.2,117.8 C412.5,118.9 423.6,119.6 431.9,120.6 C440.1,121.5 441.4,121.8 451.7,123.5 C462.0,125.2 480.7,128.5 493.9,130.5 C507.1,132.5 517.8,133.6 531.0,135.4 C544.2,137.2 560.7,139.2 573.1,141.6 C585.5,143.9 593.7,146.5 605.3,149.5 C616.9,152.5 630.1,155.9 642.5,159.4 C654.9,162.9 667.6,166.9 679.6,170.6 C691.6,174.3 704.2,178.4 714.3,181.7 C724.4,185.0 730.4,187.4 740.0,190.3 C749.6,193.2 759.8,196.2 772.2,199.2 C784.6,202.2 801.7,205.8 814.3,208.4 C826.9,211.1 835.4,212.6 847.8,215.1 C860.2,217.6 875.6,220.4 888.6,223.3 C901.6,226.2 913.4,229.6 925.8,232.7 C938.2,235.8 950.5,238.8 962.9,241.8 C975.3,244.8 987.7,247.9 1000.1,250.5 C1012.5,253.1 1024.9,254.9 1037.3,257.4 C1049.7,259.9 1064.1,263.2 1074.4,265.4 C1084.7,267.5 1088.7,268.7 1099.2,270.3 C1109.7,271.9 1124.7,273.0 1137.2,274.8 C1149.7,276.6 1161.9,279.1 1174.3,281.0 C1186.7,282.9 1200.8,285.0 1211.5,286.5 C1222.2,288.0 1228.4,288.4 1238.7,290.1 C1249.0,291.8 1261.4,294.3 1273.4,296.6 C1285.4,298.9 1298.2,302.0 1310.6,304.0 C1323.0,306.0 1335.3,307.3 1347.7,308.7 C1360.1,310.1 1371.6,311.1 1384.9,312.4 C1398.2,313.7 1420.2,315.7 1427.3,316.4" fill="none" stroke="#ff1cf5" stroke-width="1.1" stroke-linejoin="round"/>
<path d="M0.0,57.3 C4.1,58.0 16.6,60.2 24.8,61.8 C33.0,63.4 41.2,64.9 49.5,66.8 C57.8,68.7 66.0,70.9 74.3,73.4 C82.6,76.0 90.8,78.7 99.1,82.1 C107.4,85.5 115.7,90.2 123.9,94.0 C132.2,97.8 139.5,101.3 148.6,104.9 C157.7,108.5 168.1,112.0 178.4,115.6 C188.7,119.2 199.1,122.8 210.6,126.7 C222.1,130.6 236.1,135.6 247.7,139.1 C259.2,142.6 269.2,144.6 279.9,147.8 C290.6,151.0 301.0,154.9 312.1,158.2 C323.2,161.5 337.2,165.0 346.8,167.6 C356.4,170.2 360.8,171.2 370.0,173.8 C379.2,176.4 391.9,179.9 402.2,183.0 C412.5,186.1 423.6,189.2 431.9,192.1 C440.1,195.0 444.3,197.3 451.7,200.3 C459.1,203.3 467.0,207.0 476.5,210.2 C486.0,213.4 497.6,216.9 508.7,219.6 C519.9,222.3 532.7,224.2 543.4,226.3 C554.1,228.5 562.8,229.9 573.1,232.5 C583.4,235.1 593.5,238.1 605.3,241.9 C617.1,245.7 632.9,251.2 643.7,255.1 C654.5,258.9 661.5,261.8 670.0,265.0 C678.5,268.2 688.1,271.9 695.0,274.3 C701.9,276.7 706.1,278.1 711.6,279.5 C717.1,280.9 722.7,281.7 728.2,282.6 C733.7,283.5 739.2,284.0 744.8,284.7 C750.3,285.4 756.0,286.2 761.5,286.7 C767.0,287.2 772.6,287.4 778.1,287.8 C783.6,288.2 789.2,288.7 794.7,289.2 C800.2,289.7 805.3,290.2 811.3,290.9 C817.3,291.6 824.1,292.8 830.8,293.5 C837.5,294.2 844.6,294.4 851.5,295.0 C858.4,295.6 865.4,296.2 872.3,297.0 C879.2,297.8 886.2,298.6 893.1,299.7 C900.0,300.8 908.3,302.8 913.8,303.9 C919.2,305.0 920.3,305.3 925.8,306.6 C931.2,307.9 939.6,310.1 946.5,311.8 C953.4,313.5 960.4,315.2 967.3,316.6 C974.2,318.0 981.2,319.3 988.1,320.1 C995.0,320.9 1003.5,321.2 1008.8,321.6 C1014.1,322.0 1014.7,322.0 1020.0,322.5 C1025.3,323.0 1033.9,324.0 1040.8,324.6 C1047.7,325.2 1054.6,325.6 1061.5,326.0 C1068.4,326.4 1075.4,326.7 1082.3,326.7 C1089.2,326.7 1095.3,326.4 1103.1,326.0 C1110.9,325.6 1121.2,324.2 1129.0,324.6 C1136.8,325.0 1141.2,327.0 1150.0,328.1 C1158.8,329.2 1171.5,330.7 1181.7,331.0 C1192.0,331.3 1202.0,330.1 1211.5,329.8 C1221.0,329.5 1227.5,329.2 1238.7,329.4 C1249.9,329.6 1265.2,330.9 1278.4,331.0 C1291.6,331.1 1306.5,329.9 1318.0,330.3 C1329.5,330.7 1336.5,332.1 1347.7,333.3 C1358.9,334.5 1374.6,336.2 1384.9,337.4 C1395.2,338.5 1402.5,339.6 1409.6,340.2 C1416.7,340.8 1424.3,340.8 1427.3,340.9" fill="none" stroke="#2968b8" stroke-width="1.1" stroke-linejoin="round"/>
<path d="M0.0,114.3 C4.1,116.0 16.6,121.6 24.8,124.2 C33.0,126.8 41.2,128.4 49.5,129.7 C57.8,131.0 66.0,130.9 74.3,132.1 C82.6,133.3 92.1,135.4 99.1,137.1 C106.1,138.8 109.8,139.5 116.4,142.1 C123.0,144.7 131.7,148.9 138.7,152.7 C145.7,156.5 151.9,161.6 158.5,165.1 C165.1,168.6 171.8,171.5 178.4,173.8 C185.0,176.1 192.0,177.5 198.2,178.7 C204.4,179.8 208.9,179.8 215.5,180.7 C222.1,181.6 231.1,183.2 237.8,184.4 C244.5,185.6 249.4,186.7 255.8,187.7 C262.2,188.7 269.6,189.4 276.5,190.4 C283.4,191.4 290.4,192.5 297.3,193.9 C304.2,195.3 311.2,197.6 318.1,199.1 C325.0,200.6 333.3,201.9 338.8,203.2 C344.3,204.5 346.9,205.1 351.3,207.0 C355.7,208.9 359.5,211.7 365.0,214.7 C370.5,217.7 378.8,222.4 384.3,225.0 C389.8,227.6 393.1,228.7 397.8,230.2 C402.5,231.7 406.4,233.0 412.3,233.9 C418.2,234.8 426.9,234.5 433.1,235.4 C439.3,236.3 444.2,238.1 449.7,239.5 C455.2,240.9 461.0,242.3 466.3,244.1 C471.6,245.8 475.9,247.8 481.6,250.0 C487.3,252.2 494.1,255.1 500.3,257.3 C506.5,259.6 512.8,261.9 519.0,263.5 C525.2,265.1 531.5,266.0 537.7,267.2 C543.9,268.4 549.8,269.3 556.4,270.8 C563.0,272.3 572.5,274.5 577.1,276.0 C581.7,277.5 580.2,278.1 584.2,280.0 C588.2,281.9 595.3,284.8 600.8,287.3 C606.3,289.8 611.9,292.6 617.4,295.0 C622.9,297.4 628.5,299.4 634.0,301.8 C639.5,304.2 645.1,307.1 650.6,309.1 C656.1,311.1 661.7,312.4 667.2,313.9 C672.7,315.4 678.9,316.5 683.8,318.0 C688.6,319.5 692.3,321.5 696.3,323.0 C700.2,324.5 703.6,325.7 707.5,326.8 C711.4,327.9 715.1,328.9 719.9,329.7 C724.7,330.5 731.0,331.1 736.5,331.4 C742.0,331.7 747.3,331.6 753.2,331.4 C759.1,331.2 767.0,331.0 771.8,330.3 C776.6,329.6 778.7,328.1 782.2,327.2 C785.7,326.3 788.5,325.7 792.6,325.2 C796.8,324.7 801.7,324.5 807.1,324.1 C812.5,323.7 817.6,323.3 825.0,322.8 C832.4,322.3 843.6,321.4 851.5,320.9 C859.4,320.4 866.1,320.1 872.3,319.9 C878.5,319.7 884.0,320.0 888.9,319.5 C893.8,319.0 897.2,317.6 901.4,316.8 C905.5,316.0 909.6,315.1 913.8,314.7 C917.9,314.3 921.9,314.4 926.3,314.7 C930.7,315.0 934.5,315.8 940.0,316.3 C945.5,316.9 952.4,317.4 959.0,318.0 C965.6,318.6 973.6,319.3 979.8,319.7 C986.0,320.1 990.9,320.6 996.4,320.5 C1001.9,320.4 1006.6,319.4 1013.0,319.1 C1019.4,318.8 1030.4,318.5 1035.0,318.6 C1039.6,318.7 1036.4,319.3 1040.8,319.8 C1045.2,320.3 1054.6,320.5 1061.5,321.5 C1068.4,322.5 1075.4,324.6 1082.3,325.6 C1089.2,326.6 1095.1,327.4 1103.1,327.7 C1111.0,328.0 1122.2,326.2 1130.0,327.3 C1137.8,328.4 1143.6,332.2 1150.0,334.3 C1156.4,336.4 1162.0,338.5 1168.2,339.8 C1174.4,341.1 1180.7,341.2 1186.9,341.9 C1193.1,342.6 1199.0,343.7 1205.6,344.0 C1212.2,344.3 1219.2,344.0 1226.4,343.8 C1233.6,343.6 1241.0,342.8 1248.6,342.7 C1256.2,342.6 1264.8,343.3 1272.0,343.1 C1279.2,342.9 1284.8,341.4 1292.0,341.3 C1299.2,341.2 1308.2,341.9 1315.0,342.6 C1321.8,343.3 1326.6,344.7 1333.1,345.7 C1339.6,346.7 1346.0,347.8 1353.8,348.5 C1361.6,349.2 1372.8,349.8 1380.0,350.2 C1387.2,350.6 1392.4,350.8 1397.3,351.2 C1402.2,351.6 1404.2,351.9 1409.2,352.4 C1414.2,352.9 1424.3,353.8 1427.3,354.1" fill="none" stroke="#ff9a24" stroke-width="1.1" stroke-linejoin="round"/>
<line x1="0" y1="322.5" x2="1463" y2="322.5" stroke="#2f4b73" stroke-width="1" shape-rendering="crispEdges"/>
<rect x="5" y="5" width="78" height="21" fill="#000" fill-opacity="0.6"/>
<rect x="5" y="5" width="2" height="21" fill="#000"/>
<text class="lg" x="15.6" y="20.0">AUD/USD</text>
<rect x="5" y="32" width="84" height="21" fill="#000" fill-opacity="0.6"/>
<rect x="5" y="32" width="2" height="21" fill="#ff9800"/>
<text class="lg" x="15.6" y="46.0">SMA (50,0)</text>
<rect x="5" y="59" width="90" height="21" fill="#000" fill-opacity="0.6"/>
<rect x="5" y="59" width="2" height="21" fill="#0648b4"/>
<text class="lg" x="15.6" y="73.0">SMA (100,0)</text>
<rect x="5" y="86" width="90" height="21" fill="#000" fill-opacity="0.6"/>
<rect x="5" y="86" width="2" height="21" fill="#ff00ff"/>
<text class="lg" x="15.6" y="100.0">SMA (200,0)</text>
<line x1="1464" y1="44.10" x2="1469" y2="44.10" stroke="#666" stroke-width="1"/>
<text class="ax" x="1471.2" y="47.90">0.7800</text>
<line x1="1464" y1="88.95" x2="1469" y2="88.95" stroke="#666" stroke-width="1"/>
<text class="ax" x="1471.2" y="92.82">0.7700</text>
<line x1="1464" y1="133.80" x2="1469" y2="133.80" stroke="#666" stroke-width="1"/>
<text class="ax" x="1471.2" y="137.74">0.7600</text>
<line x1="1464" y1="178.65" x2="1469" y2="178.65" stroke="#666" stroke-width="1"/>
<text class="ax" x="1471.2" y="182.66">0.7500</text>
<line x1="1464" y1="223.50" x2="1469" y2="223.50" stroke="#666" stroke-width="1"/>
<text class="ax" x="1471.2" y="227.58">0.7400</text>
<line x1="1464" y1="268.35" x2="1469" y2="268.35" stroke="#666" stroke-width="1"/>
<text class="ax" x="1471.2" y="272.50">0.7300</text>
<line x1="1464" y1="313.20" x2="1469" y2="313.20" stroke="#666" stroke-width="1"/>
<text class="ax" x="1471.2" y="317.42">0.7200</text>
<line x1="1464" y1="358.05" x2="1469" y2="358.05" stroke="#666" stroke-width="1"/>
<text class="ax" x="1471.2" y="362.34">0.7100</text>
<line x1="1464" y1="402.90" x2="1469" y2="402.90" stroke="#666" stroke-width="1"/>
<text class="ax" x="1471.2" y="407.26">0.7000</text>
<line x1="1464" y1="447.75" x2="1469" y2="447.75" stroke="#666" stroke-width="1"/>
<text class="ax" x="1471.2" y="452.18">0.6900</text>
<line x1="1464" y1="492.60" x2="1469" y2="492.60" stroke="#666" stroke-width="1"/>
<text class="ax" x="1471.2" y="497.10">0.6800</text>
<line x1="1464" y1="537.45" x2="1469" y2="537.45" stroke="#666" stroke-width="1"/>
<text class="ax" x="1471.2" y="542.02">0.6700</text>
<line x1="1464" y1="582.30" x2="1469" y2="582.30" stroke="#666" stroke-width="1"/>
<text class="ax" x="1471.2" y="586.94">0.6600</text>
<path d="M1464,323 L1466.5,320.5 L1466.5,316 Q1466.5,315 1467.5,315 L1513,315 Q1514,315 1514,316 L1514,330 Q1514,331 1513,331 L1467.5,331 Q1466.5,331 1466.5,330 L1466.5,325.5 Z" fill="#2f4b73"/>
<text x="1471.1" y="327.8" font-size="11" font-weight="bold" fill="#fff">0.71792</text>
<line x1="0.5" y1="601" x2="0.5" y2="603" stroke="#555" stroke-width="1"/>
<text class="ax" x="0.2" y="616.9">May</text>
<line x1="48.8" y1="601" x2="48.8" y2="603" stroke="#555" stroke-width="1"/>
<text class="ax" x="48.8" y="616.9" text-anchor="middle">Jun</text>
<line x1="79.3" y1="601" x2="79.3" y2="603" stroke="#555" stroke-width="1"/>
<text class="ax" x="79.3" y="616.9" text-anchor="middle">8</text>
<line x1="109.8" y1="601" x2="109.8" y2="603" stroke="#555" stroke-width="1"/>
<text class="ax" x="109.8" y="616.9" text-anchor="middle">15</text>
<line x1="140.3" y1="601" x2="140.3" y2="603" stroke="#555" stroke-width="1"/>
<text class="ax" x="140.3" y="616.9" text-anchor="middle">22</text>
<line x1="176.9" y1="601" x2="176.9" y2="603" stroke="#555" stroke-width="1"/>
<text class="ax" x="176.9" y="616.9" text-anchor="middle">Jul</text>
<line x1="207.4" y1="601" x2="207.4" y2="603" stroke="#555" stroke-width="1"/>
<text class="ax" x="207.4" y="616.9" text-anchor="middle">9</text>
<line x1="237.9" y1="601" x2="237.9" y2="603" stroke="#555" stroke-width="1"/>
<text class="ax" x="237.9" y="616.9" text-anchor="middle">16</text>
<line x1="268.4" y1="601" x2="268.4" y2="603" stroke="#555" stroke-width="1"/>
<text class="ax" x="268.4" y="616.9" text-anchor="middle">23</text>
<line x1="311.1" y1="601" x2="311.1" y2="603" stroke="#555" stroke-width="1"/>
<text class="ax" x="311.1" y="616.9" text-anchor="middle">Aug</text>
<line x1="341.6" y1="601" x2="341.6" y2="603" stroke="#555" stroke-width="1"/>
<text class="ax" x="341.6" y="616.9" text-anchor="middle">8</text>
<line x1="372.1" y1="601" x2="372.1" y2="603" stroke="#555" stroke-width="1"/>
<text class="ax" x="372.1" y="616.9" text-anchor="middle">15</text>
<line x1="402.6" y1="601" x2="402.6" y2="603" stroke="#555" stroke-width="1"/>
<text class="ax" x="402.6" y="616.9" text-anchor="middle">22</text>
<line x1="451.4" y1="601" x2="451.4" y2="603" stroke="#555" stroke-width="1"/>
<text class="ax" x="451.4" y="616.9" text-anchor="middle">Sep</text>
<line x1="481.9" y1="601" x2="481.9" y2="603" stroke="#555" stroke-width="1"/>
<text class="ax" x="481.9" y="616.9" text-anchor="middle">10</text>
<line x1="512.4" y1="601" x2="512.4" y2="603" stroke="#555" stroke-width="1"/>
<text class="ax" x="512.4" y="616.9" text-anchor="middle">17</text>
<line x1="542.9" y1="601" x2="542.9" y2="603" stroke="#555" stroke-width="1"/>
<text class="ax" x="542.9" y="616.9" text-anchor="middle">24</text>
<line x1="573.4" y1="601" x2="573.4" y2="603" stroke="#555" stroke-width="1"/>
<text class="ax" x="573.4" y="616.9" text-anchor="middle">Oct</text>
<line x1="603.9" y1="601" x2="603.9" y2="603" stroke="#555" stroke-width="1"/>
<text class="ax" x="603.9" y="616.9" text-anchor="middle">8</text>
<line x1="634.4" y1="601" x2="634.4" y2="603" stroke="#555" stroke-width="1"/>
<text class="ax" x="634.4" y="616.9" text-anchor="middle">15</text>
<line x1="664.9" y1="601" x2="664.9" y2="603" stroke="#555" stroke-width="1"/>
<text class="ax" x="664.9" y="616.9" text-anchor="middle">22</text>
<line x1="713.7" y1="601" x2="713.7" y2="603" stroke="#555" stroke-width="1"/>
<text class="ax" x="713.7" y="616.9" text-anchor="middle">Nov</text>
<line x1="744.2" y1="601" x2="744.2" y2="603" stroke="#555" stroke-width="1"/>
<text class="ax" x="744.2" y="616.9" text-anchor="middle">8</text>
<line x1="774.7" y1="601" x2="774.7" y2="603" stroke="#555" stroke-width="1"/>
<text class="ax" x="774.7" y="616.9" text-anchor="middle">15</text>
<line x1="805.2" y1="601" x2="805.2" y2="603" stroke="#555" stroke-width="1"/>
<text class="ax" x="805.2" y="616.9" text-anchor="middle">22</text>
<line x1="847.9" y1="601" x2="847.9" y2="603" stroke="#555" stroke-width="1"/>
<text class="ax" x="847.9" y="616.9" text-anchor="middle">Dec</text>
<line x1="878.4" y1="601" x2="878.4" y2="603" stroke="#555" stroke-width="1"/>
<text class="ax" x="878.4" y="616.9" text-anchor="middle">10</text>
<line x1="908.9" y1="601" x2="908.9" y2="603" stroke="#555" stroke-width="1"/>
<text class="ax" x="908.9" y="616.9" text-anchor="middle">17</text>
<line x1="939.4" y1="601" x2="939.4" y2="603" stroke="#555" stroke-width="1"/>
<text class="ax" x="939.4" y="616.9" text-anchor="middle">24</text>
<line x1="976.0" y1="601" x2="976.0" y2="603" stroke="#555" stroke-width="1"/>
<text class="ax" x="976.0" y="616.9" text-anchor="middle">Jan</text>
<line x1="1006.5" y1="601" x2="1006.5" y2="603" stroke="#555" stroke-width="1"/>
<text class="ax" x="1006.5" y="616.9" text-anchor="middle">8</text>
<line x1="1037.0" y1="601" x2="1037.0" y2="603" stroke="#555" stroke-width="1"/>
<text class="ax" x="1037.0" y="616.9" text-anchor="middle">15</text>
<line x1="1067.5" y1="601" x2="1067.5" y2="603" stroke="#555" stroke-width="1"/>
<text class="ax" x="1067.5" y="616.9" text-anchor="middle">22</text>
<line x1="1116.3" y1="601" x2="1116.3" y2="603" stroke="#555" stroke-width="1"/>
<text class="ax" x="1116.3" y="616.9" text-anchor="middle">Feb</text>
<line x1="1146.8" y1="601" x2="1146.8" y2="603" stroke="#555" stroke-width="1"/>
<text class="ax" x="1146.8" y="616.9" text-anchor="middle">8</text>
<line x1="1177.3" y1="601" x2="1177.3" y2="603" stroke="#555" stroke-width="1"/>
<text class="ax" x="1177.3" y="616.9" text-anchor="middle">15</text>
<line x1="1207.8" y1="601" x2="1207.8" y2="603" stroke="#555" stroke-width="1"/>
<text class="ax" x="1207.8" y="616.9" text-anchor="middle">22</text>
<line x1="1238.3" y1="601" x2="1238.3" y2="603" stroke="#555" stroke-width="1"/>
<text class="ax" x="1238.3" y="616.9" text-anchor="middle">Mar</text>
<line x1="1268.8" y1="601" x2="1268.8" y2="603" stroke="#555" stroke-width="1"/>
<text class="ax" x="1268.8" y="616.9" text-anchor="middle">8</text>
<line x1="1299.3" y1="601" x2="1299.3" y2="603" stroke="#555" stroke-width="1"/>
<text class="ax" x="1299.3" y="616.9" text-anchor="middle">15</text>
<line x1="1329.8" y1="601" x2="1329.8" y2="603" stroke="#555" stroke-width="1"/>
<text class="ax" x="1329.8" y="616.9" text-anchor="middle">22</text>
<line x1="1366.4" y1="601" x2="1366.4" y2="603" stroke="#555" stroke-width="1"/>
<text class="ax" x="1366.4" y="616.9" text-anchor="middle">Apr</text>
<line x1="1396.9" y1="601" x2="1396.9" y2="603" stroke="#555" stroke-width="1"/>
<text class="ax" x="1396.9" y="616.9" text-anchor="middle">8</text>
<line x1="1427.4" y1="601" x2="1427.4" y2="603" stroke="#555" stroke-width="1"/>
<text class="ax" x="1427.4" y="616.9" text-anchor="middle">15</text>
<line x1="1457.9" y1="601" x2="1457.9" y2="603" stroke="#555" stroke-width="1"/>
<text class="ax" x="1457.9" y="616.9" text-anchor="middle">22</text>
</svg></body></html>
